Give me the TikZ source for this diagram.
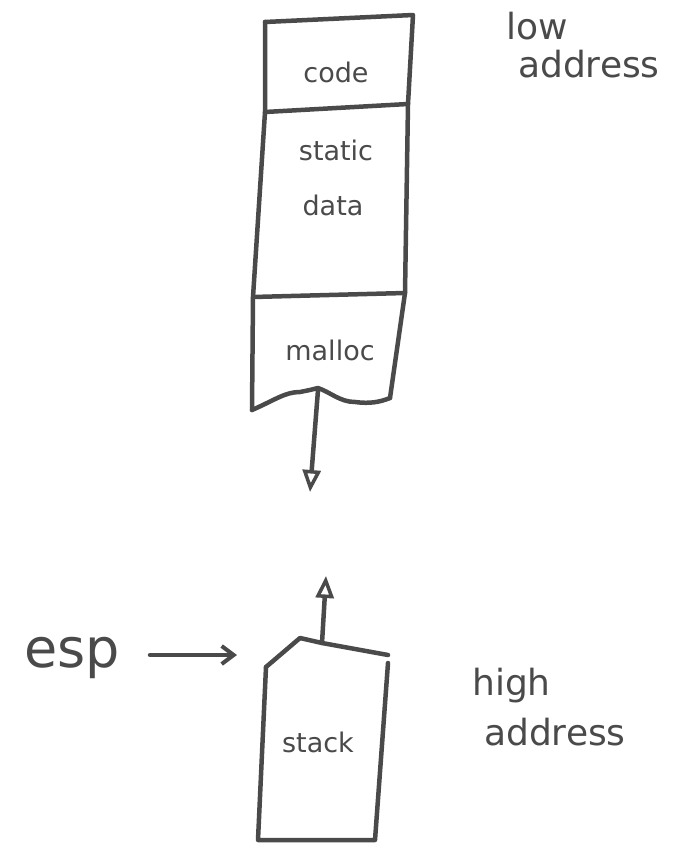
\documentclass[tikz,border=0pt]{standalone}
\usepackage{fontspec}
\setmainfont{DejaVu Sans}
\usetikzlibrary{arrows.meta}
\definecolor{ink}{HTML}{4A4A4A}
\tikzset{
  pen/.style={draw=ink, line width=4.5pt, line join=round, line cap=round},
  lbl/.style={text=ink, font=\fontsize{27}{30}\selectfont, inner sep=0pt},
  side/.style={text=ink, font=\fontsize{36}{40}\selectfont, align=left, inner sep=0pt},
  tip/.style={-{Triangle[open, length=22pt, width=18pt, line width=3.5pt]}}
}
\begin{document}
\begin{tikzpicture}[x=1pt,y=-1pt]
\useasboundingbox[fill=white] (0,0) rectangle (680,843);
% top block
\draw[pen] (265,22) -- (413,15) -- (408,104) -- (405,293) -- (390,398);
\draw[pen] (265,22) -- (265,112) -- (253,297) -- (252,410);
\draw[pen] (265,112) -- (408,104);
\draw[pen] (253,297) -- (405,293);
% wavy bottom of malloc
\draw[pen] (252,410) .. controls (275,400) and (285,392) .. (300,392)
  .. controls (310,390) .. (318,388)
  .. controls (330,392) and (340,402) .. (355,402)
  .. controls (370,404) and (380,402) .. (390,398);
\coordinate (mtop) at (318,390);
\coordinate (mend) at (310,492);
\draw[pen, tip] (mtop) -- (mend);
% stack
\draw[pen] (266,667) -- (300,638) -- (322,643) -- (388,655);
\draw[pen] (266,667) -- (258,840) -- (375,840) -- (388,663);
\coordinate (stop) at (322,643);
\coordinate (send) at (326,576);
\draw[pen, tip] (stop) -- (send);
% labels
\node[lbl] (code) at (336,72) {code};
\node[lbl] (static) at (336,150) {static};
\node[lbl] (data) at (333,205) {data};
\node[lbl] (malloc) at (330,350) {malloc};
\node[lbl] (stack) at (318,742) {stack};
\node[text=ink, font=\fontsize{54}{58}\selectfont, inner sep=0pt] (esp) at (72,658) {esp};
\coordinate (espto) at (237,655);
\draw[pen, -{Straight Barb[length=12pt, width=18pt, line width=4pt]}] (150,655) -- (espto);
\node[side, anchor=north west] (low) at (506,12) {low\\[-2pt]\hspace*{12pt}address};
\node[side, anchor=north west] (high) at (472,668) {high\\[10pt]\hspace*{12pt}address};
\end{tikzpicture}
\end{document}
